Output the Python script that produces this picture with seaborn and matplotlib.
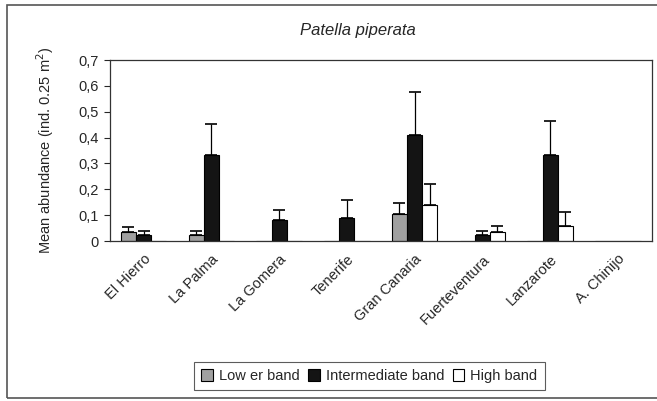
import numpy as np
import pandas as pd
import matplotlib
matplotlib.use("Agg")
import matplotlib.pyplot as plt
import seaborn as sns
from matplotlib.patches import Rectangle

islands = ["El Hierro", "La Palma", "La Gomera", "Tenerife", "Gran Canaria",
           "Fuerteventura", "Lanzarote", "A. Chinijo"]
bands = ["Lower band", "Intermediate band", "High band"]
legend_labels = ["Low er band", "Intermediate band", "High band"]

lower = [0.034, 0.025, 0, 0, 0.103, 0, 0, 0]
intermediate = [0.025, 0.334, 0.080, 0.090, 0.411, 0.023, 0.334, 0]
high = [0, 0, 0, 0, 0.138, 0.035, 0.057, 0]

lower_se = [0.019, 0.015, 0, 0, 0.044, 0, 0, 0]
intermediate_se = [0.015, 0.117, 0.040, 0.069, 0.164, 0.016, 0.129, 0]
high_se = [0, 0, 0, 0, 0.082, 0.022, 0.055, 0]

yticks = [0, 0.1, 0.2, 0.3, 0.4, 0.5, 0.6, 0.7]
ytick_labels = ["0", "0,1", "0,2", "0,3", "0,4", "0,5", "0,6", "0,7"]

df = pd.DataFrame({
    "island": islands * 3,
    "band": [b for b in bands for _ in islands],
    "mean": lower + intermediate + high,
    "se": lower_se + intermediate_se + high_se,
})

sns.set_style("white")
plt.rcParams["font.family"] = ["Liberation Sans", "DejaVu Sans"]

fig = plt.figure(figsize=(6.57, 4.01), dpi=100)
ax = fig.add_axes([0.167, 0.399, 0.825, 0.451])

colors = {"Lower band": "#a0a0a0", "Intermediate band": "#141414", "High band": "white"}
sns.barplot(data=df, x="island", y="mean", hue="band", order=islands,
            hue_order=bands, palette=colors, width=0.67, errorbar=None,
            edgecolor="black", linewidth=0.8, ax=ax, legend=False)

# one-sided error bars on top of each bar
for container, band in zip(ax.containers, bands):
    sub = df[df["band"] == band].set_index("island").loc[islands]
    xs = [p.get_x() + p.get_width() / 2 for p in container.patches]
    for x, m, s in zip(xs, sub["mean"], sub["se"]):
        if s > 0:
            ax.errorbar(x, m, yerr=[[0], [s]], fmt="none", ecolor="black",
                        elinewidth=0.9, capsize=4, capthick=1.2)

ax.set_ylim(0, 0.7)
ax.set_xlim(-0.5, len(islands) - 0.5)
ax.set_yticks(yticks)
ax.set_yticklabels(ytick_labels, fontsize=10.5)
ax.set_xticks(range(len(islands)))
ax.set_xticklabels(islands, rotation=45, ha="right", rotation_mode="anchor", fontsize=10.5)
ax.tick_params(axis="y", direction="out", length=4, width=0.8, left=True, pad=4)
ax.tick_params(axis="x", length=0, pad=8)
ax.set_xlabel("")
ax.set_ylabel("Mean abundance (ind. 0.25 m$^2$)", fontsize=10.5, labelpad=16)
for sp in ax.spines.values():
    sp.set_color("#333333")
    sp.set_linewidth(0.9)

fig.text(0.545, 0.925, "Patella piperata", ha="center", va="center",
         fontsize=12, style="italic")

handles = [Rectangle((0, 0), 1, 1, facecolor=colors[b], edgecolor="black", linewidth=0.8)
           for b in bands]
leg = fig.legend(handles, legend_labels, loc="center", bbox_to_anchor=(0.562, 0.062),
                 ncol=3, frameon=True, fancybox=False, fontsize=10.5,
                 handlelength=0.8, handleheight=0.8, handletextpad=0.4,
                 columnspacing=0.6, borderpad=0.5)
leg.get_frame().set_edgecolor("#333333")
leg.get_frame().set_linewidth(0.8)

# outer chart border
fig.patches.append(Rectangle((0.011, 0.007), 1.2, 0.98, transform=fig.transFigure,
                             fill=False, edgecolor="#555555", linewidth=1.2))

fig.savefig("out.png", dpi=100)
